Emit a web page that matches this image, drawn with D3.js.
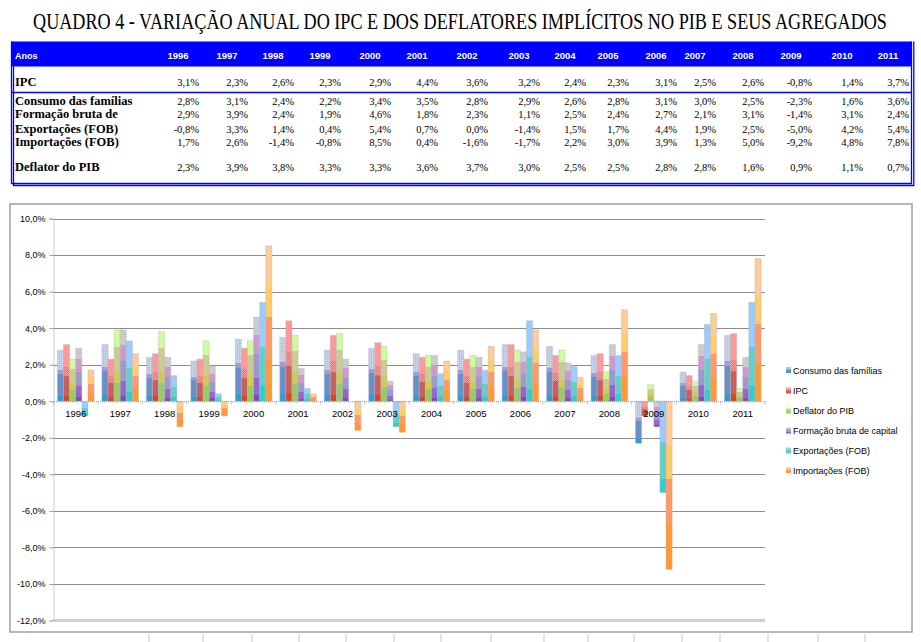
<!DOCTYPE html>
<html>
<head>
<meta charset="utf-8">
<script src="https://cdn.jsdelivr.net/npm/d3@7"></script>
<style>
  html, body { margin: 0; padding: 0; background: #fff; }
  svg { display: block; }
</style>
</head>
<body>
<svg id="chart"></svg>
<script>
// 数据
const years = ['1996', '1997', '1998', '1999', '2000', '2001', '2002', '2003', '2004', '2005', '2006', '2007', '2008', '2009', '2010', '2011'];
const ipc = [3.1, 2.3, 2.6, 2.3, 2.9, 4.4, 3.6, 3.2, 2.4, 2.3, 3.1, 2.5, 2.6, -0.8, 1.4, 3.7];
const consumo = [2.8, 3.1, 2.4, 2.2, 3.4, 3.5, 2.8, 2.9, 2.6, 2.8, 3.1, 3.0, 2.5, -2.3, 1.6, 3.6];
const formacao = [2.9, 3.9, 2.4, 1.9, 4.6, 1.8, 2.3, 1.1, 2.5, 2.4, 2.7, 2.1, 3.1, -1.4, 3.1, 2.4];
const exportacoes = [-0.8, 3.3, 1.4, 0.4, 5.4, 0.7, 0.0, -1.4, 1.5, 1.7, 4.4, 1.9, 2.5, -5.0, 4.2, 5.4];
const importacoes = [1.7, 2.6, -1.4, -0.8, 8.5, 0.4, -1.6, -1.7, 2.2, 3.0, 3.9, 1.3, 5.0, -9.2, 4.8, 7.8];
const deflator = [2.3, 3.9, 3.8, 3.3, 3.3, 3.6, 3.7, 3.0, 2.5, 2.5, 2.8, 2.8, 1.6, 0.9, 1.1, 0.7];
const yTicks = [-12, -10, -8, -6, -4, -2, 0, 2, 4, 6, 8, 10];

const title = 'QUADRO 4 - VARIAÇÃO ANUAL DO IPC E DOS DEFLATORES IMPLÍCITOS NO PIB E SEUS AGREGADOS';

// table rows (label, values)
const tableRows = [
  { label: 'IPC', values: ipc },
  { label: 'Consumo das famílias', values: consumo },
  { label: 'Formação bruta de', values: formacao },
  { label: 'Exportações (FOB)', values: exportacoes },
  { label: 'Importações (FOB)', values: importacoes },
  { label: 'Deflator do PIB', values: deflator },
];

// chart series, in bar order
const chartSeries = [
  { name: 'Consumo das famílias', values: consumo },
  { name: 'IPC', values: ipc },
  { name: 'Deflator do PIB', values: deflator },
  { name: 'Formação bruta de capital', values: formacao },
  { name: 'Exportações (FOB)', values: exportacoes },
  { name: 'Importações (FOB)', values: importacoes },
];

// banded fills, top -> bottom: [offset, colour]
const seriesBands = [
  [[0, '#b3c6f0'], [0.39, '#9c9ed8'], [0.47, '#6891c9'], [0.89, '#2f9bd6']],
  [[0, '#ff9898'], [0.39, '#ef6e6e'], [0.56, '#c95f5f'], [0.9, '#d8461e']],
  [[0, '#ccff99'], [0.24, '#cccc92'], [0.56, '#cdcc55'], [0.74, '#98cc62']],
  [[0, '#cbcbcb'], [0.21, '#cc9acc'], [0.44, '#9a9acd'], [0.72, '#9765cc'], [0.92, '#7f4fa8']],
  [[0, '#9accff'], [0.45, '#66cccc'], [0.85, '#33cccc']],
  [[0, '#ffcc99'], [0.26, '#ffcc66'], [0.46, '#ff9966'], [0.73, '#ff9933']],
];
// textured band per series: [from, to, pattern]
const seriesTexture = [[0, 0.39, 'dots'], [0.39, 0.56, 'checker'], null, null, null, null];

// Excel column right edges of the table (value alignment)
const colRight = [199, 248, 294, 341, 391, 438, 488, 540, 586, 629, 677, 716, 764, 812, 863, 909];

const W = 921;
const H = 642;
const fmtLocale = d3.formatLocale({ decimal: ',', thousands: '.', grouping: [3], currency: ['', ''], minus: '-' });
const pct = (v) => fmtLocale.format('.1f')(v) + '%';

const svg = d3.select('#chart').attr('width', W).attr('height', H).attr('viewBox', [0, 0, W, H]);

/**
 * 标题 (narrow serif: squeeze horizontally to the reference width)
 */
const titleText = svg
  .append('text')
  .attr('text-anchor', 'middle')
  .attr('font-family', '"Liberation Serif", serif')
  .attr('font-size', 23)
  .attr('fill', '#000')
  .text(title);
const titleLen = titleText.node().getComputedTextLength();
titleText.attr('transform', `translate(460,29) scale(${854 / titleLen},1)`);

/**
 * 表格
 */
const table = svg.append('g');
const blue = '#0000ff';
table.append('rect').attr('x', 11).attr('y', 41.5).attr('width', 901).attr('height', 25).attr('fill', blue);
table
  .append('path')
  .attr('fill', 'none')
  .attr('stroke', blue)
  .attr('stroke-width', 1.3)
  .attr('d', 'M11.5,41.5V183.5H911.5V41.5 M13.5,41.5V185.5H913.8V41.5 M11,92.5H912');

table
  .append('text')
  .attr('x', 15)
  .attr('y', 58.5)
  .attr('font-family', '"Liberation Sans", sans-serif')
  .attr('font-weight', 'bold')
  .attr('font-size', 9)
  .attr('fill', '#fff')
  .text('Anos');
table
  .selectAll('.yearHead')
  .data(years)
  .join('text')
  .attr('class', 'yearHead')
  .attr('x', (_, i) => colRight[i] - 21)
  .attr('y', 58.5)
  .attr('text-anchor', 'middle')
  .attr('font-family', '"Liberation Sans", sans-serif')
  .attr('font-weight', 'bold')
  .attr('font-size', 9.5)
  .attr('fill', '#fff')
  .text((d) => d);

const rowY = [86, 104.5, 118, 132.5, 146, 171];
tableRows.forEach((row, r) => {
  table
    .append('text')
    .attr('x', 15)
    .attr('y', rowY[r])
    .attr('font-family', '"Liberation Serif", serif')
    .attr('font-weight', 'bold')
    .attr('font-size', 12.5)
    .attr('fill', '#000')
    .text(row.label);
  table
    .append('g')
    .selectAll('text')
    .data(row.values)
    .join('text')
    .attr('x', (_, i) => colRight[i])
    .attr('y', rowY[r])
    .attr('text-anchor', 'end')
    .attr('font-family', '"Liberation Serif", serif')
    .attr('font-size', 10.5)
    .attr('fill', '#000')
    .text((d) => pct(d));
});

/**
 * 图表
 */
const plotLeft = 53.5;
const plotRight = 765;
const y = d3.scaleLinear([-12, 10], [620.5, 218.5]);
const x = d3.scaleBand(years, [plotLeft, plotRight]).padding(0);
const xs = d3
  .scaleBand(d3.range(chartSeries.length), [0, x.bandwidth()])
  .paddingInner(0)
  .paddingOuter(0.64);

// outer frame
svg
  .append('rect')
  .attr('x', 10)
  .attr('y', 204)
  .attr('width', 902)
  .attr('height', 428)
  .attr('fill', '#fff')
  .attr('stroke', '#a0a0a0')
  .attr('stroke-width', 1.5);

// spreadsheet column borders peeking below the frame
const sheetCols = [149, 203, 252, 299, 346, 394, 441, 491, 544, 588, 634, 682, 720, 768, 818, 865];
svg
  .append('g')
  .selectAll('line')
  .data(sheetCols)
  .join('line')
  .attr('x1', (d) => d)
  .attr('x2', (d) => d)
  .attr('y1', 634)
  .attr('y2', 642)
  .attr('stroke', '#c8c8c8');

// gradients + textures
const defs = svg.append('defs');
seriesBands.forEach((bands, s) => {
  const g = defs.append('linearGradient').attr('id', `band${s}`).attr('x1', 0).attr('y1', 0).attr('x2', 0).attr('y2', 1);
  bands.forEach((b, k) => {
    const end = k + 1 < bands.length ? bands[k + 1][0] : 1;
    g.append('stop').attr('offset', b[0]).attr('stop-color', b[1]);
    g.append('stop').attr('offset', end).attr('stop-color', b[1]);
  });
});
const dots = defs.append('pattern').attr('id', 'dots').attr('width', 2).attr('height', 2).attr('patternUnits', 'userSpaceOnUse');
dots.append('rect').attr('width', 1).attr('height', 1).attr('fill', '#fff').attr('fill-opacity', 0.45);
const checker = defs.append('pattern').attr('id', 'checker').attr('width', 2).attr('height', 2).attr('patternUnits', 'userSpaceOnUse');
checker.append('rect').attr('width', 1).attr('height', 1).attr('fill', '#ffb0b0').attr('fill-opacity', 0.7);
checker.append('rect').attr('x', 1).attr('y', 1).attr('width', 1).attr('height', 1).attr('fill', '#ffb0b0').attr('fill-opacity', 0.7);

// grid
svg
  .append('g')
  .selectAll('line')
  .data(yTicks.filter((t) => t > -12 && t !== 0))
  .join('line')
  .attr('x1', plotLeft)
  .attr('x2', plotRight)
  .attr('y1', (d) => Math.round(y(d)) + 0.5)
  .attr('y2', (d) => Math.round(y(d)) + 0.5)
  .attr('stroke', '#8c8c8c');
svg
  .append('line')
  .attr('x1', plotLeft)
  .attr('x2', plotRight)
  .attr('y1', y(-12))
  .attr('y2', y(-12))
  .attr('stroke', '#cfcfcf')
  .attr('stroke-width', 3);

// y axis
const yAxis = d3
  .axisLeft(y)
  .tickValues(yTicks)
  .tickSize(4)
  .tickFormat((d) => pct(d));
svg
  .append('g')
  .attr('transform', `translate(${plotLeft},0)`)
  .call(yAxis)
  .call((g) => g.select('.domain').attr('stroke', '#9a9a9a').attr('stroke-dasharray', '1,1'))
  .call((g) => g.selectAll('.tick line').attr('stroke', '#9a9a9a'))
  .call((g) =>
    g
      .selectAll('.tick text')
      .attr('font-family', '"Liberation Sans", sans-serif')
      .attr('font-size', 9)
      .attr('fill', '#000')
      .attr('x', -8),
  );

// bars
const bars = svg.append('g');
chartSeries.forEach((series, s) => {
  const data = series.values.map((v, i) => ({ v, i })).filter((d) => d.v !== 0);
  const bx = (d) => x(years[d.i]) + xs(s);
  const by = (d) => y(Math.max(0, d.v));
  const bh = (d) => Math.abs(y(d.v) - y(0));
  const g = bars.append('g');
  g.selectAll('rect.bar')
    .data(data)
    .join('rect')
    .attr('class', 'bar')
    .attr('x', bx)
    .attr('width', xs.bandwidth())
    .attr('y', by)
    .attr('height', bh)
    .attr('fill', `url(#band${s})`)
    .attr('stroke', '#b4b4b4')
    .attr('stroke-width', 0.8)
    .attr('stroke-dasharray', '1,1');
  const tex = seriesTexture[s];
  if (tex) {
    g.selectAll('rect.tex')
      .data(data)
      .join('rect')
      .attr('class', 'tex')
      .attr('x', bx)
      .attr('width', xs.bandwidth())
      .attr('y', (d) => by(d) + bh(d) * tex[0])
      .attr('height', (d) => bh(d) * (tex[1] - tex[0]))
      .attr('fill', `url(#${tex[2]})`);
  }
});

// category axis at zero
const xAxis = d3.axisBottom(x).tickSize(0);
svg
  .append('g')
  .attr('transform', `translate(0,${y(0)})`)
  .call(xAxis)
  .call((g) => g.select('.domain').attr('stroke', '#9a9a9a').attr('stroke-dasharray', '1,1'))
  .call((g) =>
    g
      .selectAll('.tick text')
      .attr('font-family', '"Liberation Sans", sans-serif')
      .attr('font-size', 9.5)
      .attr('fill', '#000')
      .attr('dy', '0.71em')
      .attr('y', 9),
  );
svg
  .append('g')
  .selectAll('line')
  .data(years.concat(['end']))
  .join('line')
  .attr('x1', (d, i) => plotLeft + i * x.step())
  .attr('x2', (d, i) => plotLeft + i * x.step())
  .attr('y1', y(0))
  .attr('y2', y(0) + 4)
  .attr('stroke', '#9a9a9a')
  .attr('stroke-dasharray', '1,1');

/**
 * 图例
 */
const legend = svg.append('g').attr('transform', 'translate(786,0)');
const legendY = [370, 390.5, 410.5, 430.5, 450.5, 470];
chartSeries.forEach((series, s) => {
  const item = legend.append('g').attr('transform', `translate(0,${legendY[s]})`);
  item.append('rect').attr('x', 0).attr('y', -3).attr('width', 5).attr('height', 6).attr('fill', `url(#band${s})`);
  item
    .append('text')
    .attr('x', 7)
    .attr('y', 3.5)
    .attr('font-family', '"Liberation Sans", sans-serif')
    .attr('font-size', 9)
    .attr('fill', '#000')
    .text(series.name);
});
</script>
</body>
</html>
